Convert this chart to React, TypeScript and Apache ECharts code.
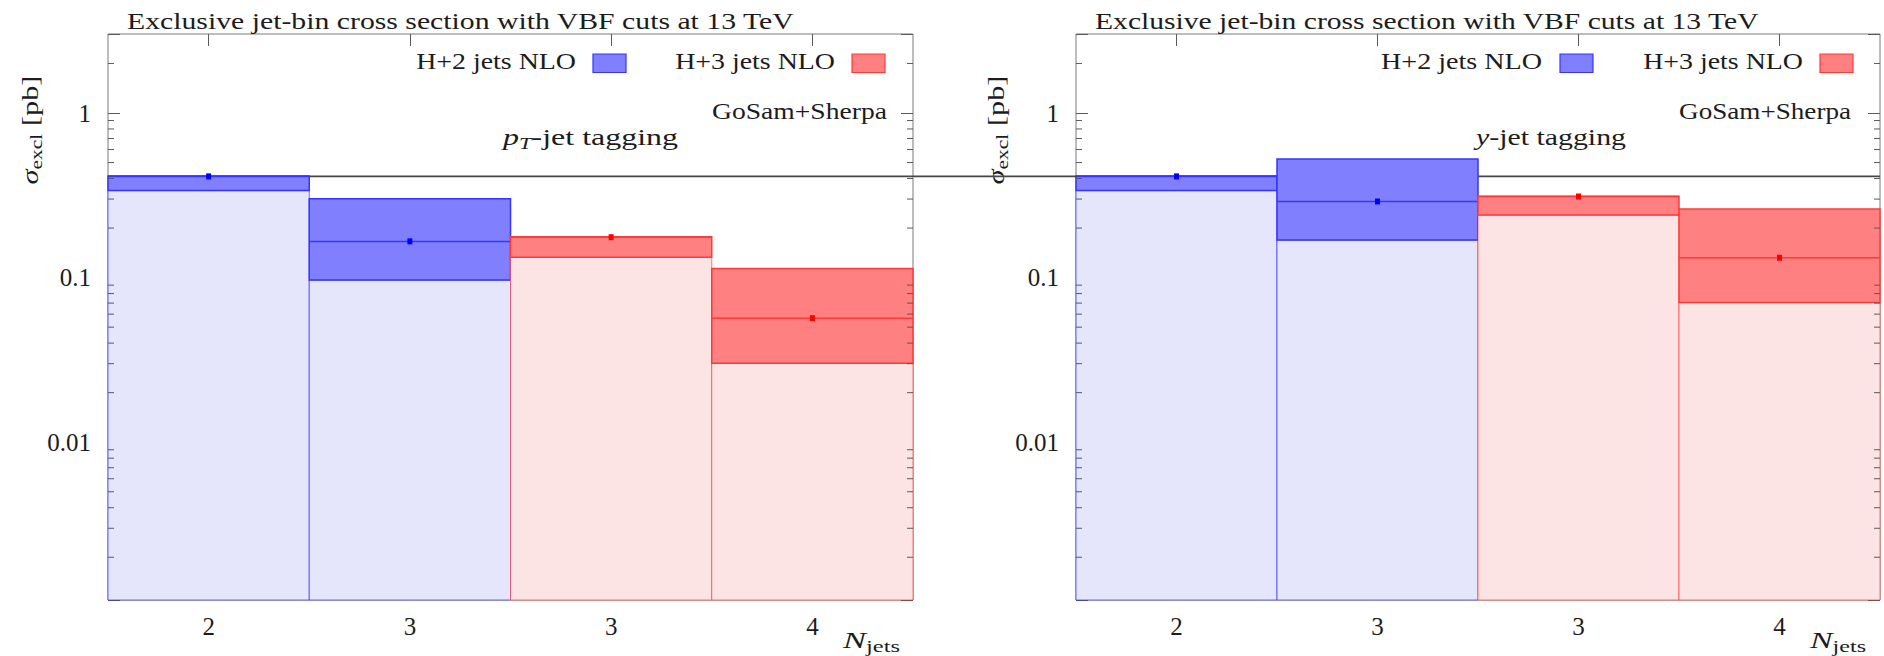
import React, { useEffect, useRef } from "react";
import * as echarts from "echarts";

// Exclusive jet-bin categories (two panels share the same binning)
const jetBins = ["2", "3", "3", "4"];
const h2Slots = [0, 1];
const h3Slots = [2, 3];

// p_T-jet tagging: central value and scale-variation band [pb]
const ptH2Central = [0.412, 0.166];
const ptH2Lower = [0.338, 0.0966];
const ptH2Upper = [0.414, 0.301];
const ptH3Central = [0.176, 0.0567];
const ptH3Lower = [0.133, 0.0302];
const ptH3Upper = [0.177, 0.1136];

// y-jet tagging: central value and scale-variation band [pb]
const yH2Central = [0.412, 0.29];
const yH2Lower = [0.338, 0.169];
const yH2Upper = [0.414, 0.525];
const yH3Central = [0.311, 0.132];
const yH3Lower = [0.24, 0.0706];
const yH3Upper = [0.312, 0.261];

// horizontal guide at the 2-jet central value
const referenceValue = 0.412;

// y axis
const majorTicks = [0.01, 0.1, 1];
const minorMultipliers = [2, 3, 4, 5, 6, 7, 8, 9];
const decades = [0.001, 0.01, 0.1, 1];
const yMin = 0.0011;
const yMax = 3.02;

const FONT = "'Liberation Serif', 'Times New Roman', serif";
const TEXT = "#1c1c1c";
const FRAME = "#7a7a7a";
const TICK = "#5a5a5a";

const grids = [
  { left: 108, top: 34, width: 805, height: 566 },
  { left: 1076, top: 34, width: 804, height: 566 },
];

const blue = {
  light: "#e5e5fc",
  lightEdge: "rgba(40,40,255,0.65)",
  band: "#8080ff",
  edge: "#3535ff",
  marker: "#0000ff",
};
const red = {
  light: "#fde4e4",
  lightEdge: "rgba(255,40,40,0.6)",
  band: "#ff8080",
  edge: "#ff3a3a",
  marker: "#ff0000",
};

type Part = [string, number, boolean];

function measure(parts: Part[]) {
  const ctx = document.createElement("canvas").getContext("2d")!;
  let w = 0;
  for (const [t, size, italic] of parts) {
    ctx.font = `${italic ? "italic " : ""}${size}px ${FONT}`;
    w += ctx.measureText(t).width;
  }
  return w;
}

function plainText(id: string, text: string, x: number, y: number, width: number, align: "left" | "right", size = 24) {
  const sx = width / measure([[text, size, false]]);
  return {
    id,
    type: "text",
    x,
    y,
    scaleX: sx,
    silent: true,
    style: {
      text,
      fontSize: size,
      fontFamily: FONT,
      fill: TEXT,
      align,
      textAlign: align,
      verticalAlign: "middle",
      textVerticalAlign: "middle",
    },
  };
}

function richStyles(main: number, sub: number, subShift: number) {
  const lh = 30;
  return {
    it: { fontSize: main, fontStyle: "italic", fontFamily: FONT, fill: TEXT, color: TEXT, lineHeight: lh },
    n: { fontSize: main, fontFamily: FONT, fill: TEXT, color: TEXT, lineHeight: lh },
    sub: { fontSize: sub, fontFamily: FONT, fill: TEXT, color: TEXT, lineHeight: lh - 2 * subShift, verticalAlign: "bottom" },
    subit: { fontSize: sub, fontStyle: "italic", fontFamily: FONT, fill: TEXT, color: TEXT, lineHeight: lh - 2 * subShift, verticalAlign: "bottom" },
  };
}

function richText(id: string, text: string, parts: Part[], x: number, y: number, width: number, align: string, extra: any = {}) {
  const sx = width / measure(parts);
  return {
    id,
    type: "text",
    x,
    y,
    scaleX: sx,
    silent: true,
    ...extra,
    style: {
      text,
      rich: richStyles(24, 17, 6),
      fontSize: 24,
      fontFamily: FONT,
      fill: TEXT,
      align,
      textAlign: align,
      verticalAlign: "middle",
      textVerticalAlign: "middle",
    },
  };
}

function swatch(id: string, x: number, pal: typeof blue) {
  return {
    id,
    type: "rect",
    silent: true,
    shape: { x, y: 54, width: 33, height: 18.5 },
    style: { fill: pal.band, stroke: pal.edge, lineWidth: 1.2 },
  };
}

function bandRenderer(pal: typeof blue) {
  return (params: any, api: any) => {
    const slot = api.value(0);
    const lower = api.value(1);
    const central = api.value(2);
    const upper = api.value(3);
    const cs = params.coordSys;
    const w = api.size([1, 0], [slot, 1])[0];
    const [cx, yC] = api.coord([slot, central]);
    const yL = api.coord([slot, lower])[1];
    const yU = api.coord([slot, upper])[1];
    const bottom = cs.y + cs.height;
    const x0 = cx - w / 2;
    return {
      type: "group",
      children: [
        {
          type: "rect",
          shape: { x: x0, y: yL, width: w, height: bottom - yL },
          style: { fill: pal.light, stroke: pal.lightEdge, lineWidth: 1 },
        },
        {
          type: "rect",
          shape: { x: x0, y: yU, width: w, height: yL - yU },
          style: { fill: pal.band, stroke: pal.edge, lineWidth: 1.5 },
        },
        {
          type: "line",
          shape: { x1: x0, y1: yC, x2: x0 + w, y2: yC },
          style: { stroke: pal.edge, lineWidth: 1.5 },
        },
        {
          type: "rect",
          shape: { x: cx - 2.5, y: yC - 3, width: 5, height: 6 },
          style: { fill: pal.marker },
        },
      ],
    };
  };
}

function minorTickRenderer(params: any, api: any) {
  const v = api.value(1);
  const cs = params.coordSys;
  const y = api.coord([0, v])[1];
  return {
    type: "group",
    children: [
      { type: "line", shape: { x1: cs.x, y1: y, x2: cs.x + 6, y2: y }, style: { stroke: TICK, lineWidth: 1 } },
      {
        type: "line",
        shape: { x1: cs.x + cs.width - 6, y1: y, x2: cs.x + cs.width, y2: y },
        style: { stroke: TICK, lineWidth: 1 },
      },
    ],
  };
}

function bandData(slots: number[], lower: number[], central: number[], upper: number[]) {
  return slots.map((s, i) => [s, lower[i], central[i], upper[i]]);
}

export default function App() {
  const ref = useRef<HTMLDivElement>(null);

  useEffect(() => {
    if (!ref.current) return;
    const chart = echarts.init(ref.current, undefined, { renderer: "svg" });

    const minorTicks: number[] = [];
    for (const d of decades) {
      for (const m of minorMultipliers) {
        const v = d * m;
        if (v > yMin && v < yMax * 0.98) minorTicks.push(v);
      }
    }

    const xAxes: any[] = [];
    const yAxes: any[] = [];
    grids.forEach((_, gi) => {
      xAxes.push({
        type: "category",
        gridIndex: gi,
        data: jetBins,
        position: "bottom",
        boundaryGap: true,
        axisLine: { show: false },
        axisTick: { show: true, inside: true, alignWithLabel: true, interval: 0, length: 12, lineStyle: { color: TICK } },
        axisLabel: { interval: 0, margin: 14, fontSize: 25, fontFamily: FONT, color: TEXT },
        splitLine: { show: false },
      });
      xAxes.push({
        type: "category",
        gridIndex: gi,
        data: jetBins,
        position: "top",
        boundaryGap: true,
        axisLine: { show: false },
        axisTick: { show: true, inside: true, alignWithLabel: true, interval: 0, length: 12, lineStyle: { color: TICK } },
        axisLabel: { show: false },
        splitLine: { show: false },
      });
      const yBase = {
        type: "log",
        logBase: 10,
        gridIndex: gi,
        min: yMin,
        max: yMax,
        axisLine: { show: false },
        axisTick: { show: true, inside: true, length: 12, lineStyle: { color: TICK } },
        splitLine: { show: false },
        minorTick: { show: false },
      };
      yAxes.push({
        ...yBase,
        position: "left",
        axisLabel: {
          margin: 17,
          fontSize: 25,
          fontFamily: FONT,
          color: TEXT,
          showMinLabel: true,
          showMaxLabel: true,
          formatter: (v: number) => {
            const t = majorTicks.find((m) => Math.abs(m - v) / m < 1e-6);
            return t === undefined ? "" : String(t);
          },
        },
      });
      yAxes.push({ ...yBase, position: "right", axisLabel: { show: false } });
    });

    const panels = [
      {
        h2: bandData(h2Slots, ptH2Lower, ptH2Central, ptH2Upper),
        h3: bandData(h3Slots, ptH3Lower, ptH3Central, ptH3Upper),
      },
      {
        h2: bandData(h2Slots, yH2Lower, yH2Central, yH2Upper),
        h3: bandData(h3Slots, yH3Lower, yH3Central, yH3Upper),
      },
    ];

    const series: any[] = [];
    panels.forEach((p, gi) => {
      series.push({
        type: "custom",
        name: "H+2 jets NLO",
        xAxisIndex: gi * 2,
        yAxisIndex: gi * 2,
        renderItem: bandRenderer(blue),
        encode: { x: 0, y: 2 },
        data: p.h2,
        silent: true,
        z: 3,
      });
      series.push({
        type: "custom",
        name: "H+3 jets NLO",
        xAxisIndex: gi * 2,
        yAxisIndex: gi * 2,
        renderItem: bandRenderer(red),
        encode: { x: 0, y: 2 },
        data: p.h3,
        silent: true,
        z: 4,
      });
      series.push({
        type: "custom",
        name: "minor ticks",
        xAxisIndex: gi * 2,
        yAxisIndex: gi * 2,
        renderItem: minorTickRenderer,
        encode: { x: 0, y: 1 },
        data: minorTicks.map((v) => [0, v]),
        silent: true,
        z: 5,
      });
    });

    const titleText = "Exclusive jet-bin cross section with VBF cuts at 13 TeV";
    const sigmaParts: Part[] = [
      ["σ", 24, true],
      ["excl", 17, false],
      [" [pb]", 24, false],
    ];
    const njetsParts: Part[] = [
      ["N", 24, true],
      ["jets", 17, false],
    ];

    const graphics: any[] = [
      plainText("title0", titleText, 127, 21, 668, "left"),
      plainText("title1", titleText, 1095, 21, 665, "left"),
      plainText("leg0a", "H+2 jets NLO", 576, 61, 160, "right"),
      plainText("leg0b", "H+3 jets NLO", 835, 61, 160, "right"),
      plainText("leg1a", "H+2 jets NLO", 1542, 61, 161, "right"),
      plainText("leg1b", "H+3 jets NLO", 1803, 61, 160, "right"),
      swatch("sw0a", 593, blue),
      swatch("sw0b", 852, red),
      swatch("sw1a", 1560, blue),
      swatch("sw1b", 1820, red),
      plainText("gs0", "GoSam+Sherpa", 887, 111, 175, "right"),
      plainText("gs1", "GoSam+Sherpa", 1851, 111, 172, "right"),
      richText(
        "tag0",
        "{it|p}{subit|T}{n|-jet tagging}",
        [
          ["p", 24, true],
          ["T", 17, true],
          ["-jet tagging", 24, false],
        ],
        503,
        137,
        175,
        "left"
      ),
      richText(
        "tag1",
        "{it|y}{n|-jet tagging}",
        [
          ["y", 24, true],
          ["-jet tagging", 24, false],
        ],
        1476,
        137,
        150,
        "left"
      ),
      richText("ylab0", "{it|σ}{sub|excl}{n| [pb]}", sigmaParts, 30, 130, 109, "center", { rotation: Math.PI / 2 }),
      richText("ylab1", "{it|σ}{sub|excl}{n| [pb]}", sigmaParts, 996, 130, 109, "center", { rotation: Math.PI / 2 }),
      richText("xlab0", "{it|N}{sub|jets}", njetsParts, 843, 640, 57, "left"),
      richText("xlab1", "{it|N}{sub|jets}", njetsParts, 1810, 640, 56, "left"),
    ];

    chart.setOption({
      animation: false,
      backgroundColor: "#ffffff",
      textStyle: { fontFamily: FONT },
      grid: grids.map((g) => ({ ...g, show: true, borderColor: FRAME, borderWidth: 1, backgroundColor: "transparent" })),
      xAxis: xAxes,
      yAxis: yAxes,
      series,
      graphic: { elements: graphics },
    });

    // guide line at the 2-jet central value, spanning both panels
    const yRef = chart.convertToPixel({ yAxisIndex: 0 }, referenceValue) as number;
    chart.setOption({
      graphic: {
        elements: [
          {
            id: "refLine",
            type: "line",
            silent: true,
            z: 1,
            shape: {
              x1: grids[0].left,
              y1: yRef,
              x2: grids[1].left + grids[1].width,
              y2: yRef,
            },
            style: { stroke: "#474747", lineWidth: 1.8 },
          },
        ],
      },
    });

    return () => chart.dispose();
  }, []);

  return (
    <div
      ref={ref}
      style={{ position: "absolute", left: 0, top: 0, width: 1884, height: 656, background: "#fff" }}
    />
  );
}
